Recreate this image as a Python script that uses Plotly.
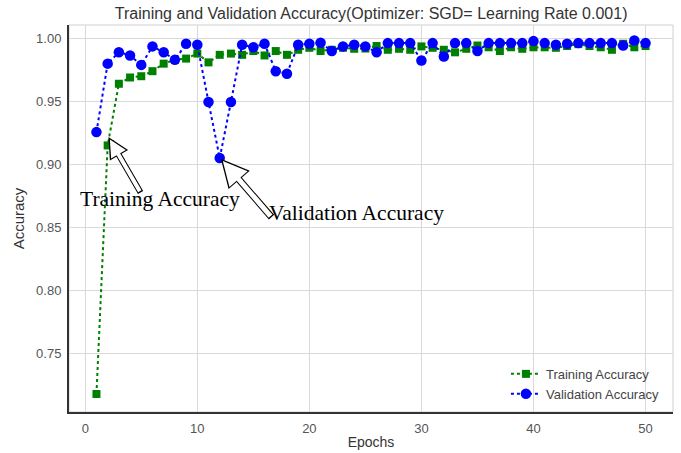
import plotly.graph_objects as go

epochs = list(range(1, 51))
train_acc = [0.7175, 0.915, 0.964, 0.969, 0.970, 0.974, 0.980, 0.983, 0.984, 0.988,
             0.981, 0.987, 0.988, 0.987, 0.990, 0.9865, 0.990, 0.987, 0.991, 0.9926,
             0.990, 0.991, 0.9926, 0.9918, 0.992, 0.994, 0.991, 0.9918, 0.991, 0.9937,
             0.9926, 0.991, 0.989, 0.9918, 0.9944, 0.993, 0.990, 0.993, 0.9918, 0.993,
             0.993, 0.9926, 0.994, 0.9955, 0.994, 0.993, 0.991, 0.9958, 0.993, 0.994]
val_acc = [0.9256, 0.980, 0.989, 0.9865, 0.979, 0.9937, 0.989, 0.983, 0.9958, 0.995,
           0.9495, 0.905, 0.9495, 0.995, 0.993, 0.9958, 0.974, 0.972, 0.995, 0.9958,
           0.9966, 0.990, 0.9937, 0.995, 0.9937, 0.989, 0.9963, 0.9963, 0.9963, 0.9825,
           0.9963, 0.9857, 0.9963, 0.9963, 0.990, 0.9963, 0.9963, 0.9963, 0.9963, 0.9979,
           0.9963, 0.995, 0.9958, 0.9963, 0.9963, 0.9963, 0.9963, 0.9944, 0.9984, 0.9963]

x_ticks = [0, 10, 20, 30, 40, 50]
y_ticks = [0.75, 0.80, 0.85, 0.90, 0.95, 1.00]

title_text = "Training and Validation Accuracy(Optimizer: SGD= Learning Rate 0.001)"

fig = go.Figure()
fig.add_trace(go.Scatter(
    x=epochs, y=train_acc, mode="lines+markers", name="Training Accuracy",
    line=dict(color="#008000", width=2, dash="dot"),
    marker=dict(symbol="square", size=8, color="#008000")))
fig.add_trace(go.Scatter(
    x=epochs, y=val_acc, mode="lines+markers", name="Validation Accuracy",
    line=dict(color="#0000ff", width=2, dash="dot"),
    marker=dict(symbol="circle", size=10.5, color="#0000ff")))

def hollow_arrow(x, y, ax, ay, w_out, s_out, w_in, s_in):
    # black outline
    fig.add_annotation(x=x, y=y, ax=ax, ay=ay, text="", showarrow=True,
                       arrowhead=2, arrowsize=s_out, arrowwidth=w_out, arrowcolor="#000000")
    # white interior
    fig.add_annotation(x=x, y=y, ax=ax, ay=ay, text="", showarrow=True,
                       arrowhead=2, arrowsize=s_in, arrowwidth=w_in, arrowcolor="#ffffff",
                       standoff=3, startstandoff=1.5)

hollow_arrow(2.07, 0.9217, 33, 57, 6, 0.7, 4, 0.85)
hollow_arrow(12.1, 0.9045, 52, 60, 7, 0.8, 5, 0.96)

fig.add_annotation(x=6.65, y=0.8722, text="Training Accuracy", showarrow=False,
                   font=dict(family="Liberation Serif", size=21.5, color="#000000"))
fig.add_annotation(x=24.25, y=0.8611, text="Validation Accuracy", showarrow=False,
                   font=dict(family="Liberation Serif", size=21.5, color="#000000"))

# light frame on top/right
fig.add_shape(type="rect", xref="paper", yref="paper", x0=0, y0=0, x1=1, y1=1,
              line=dict(color="#d0d0d0", width=1), layer="below")

fig.update_layout(
    width=681, height=453,
    margin=dict(l=69, r=8, t=25, b=41),
    paper_bgcolor="white", plot_bgcolor="white",
    font=dict(family="Liberation Sans", color="#555555", size=13),
    title=dict(text=title_text, x=0.545, xanchor="center", y=0.971, yanchor="middle",
               font=dict(family="Liberation Sans", size=16, color="#333333")),
    showlegend=True,
    legend=dict(x=0.985, xanchor="right", y=0.008, yanchor="bottom",
                bgcolor="rgba(255,255,255,0)", font=dict(size=13, color="#444444"),
                tracegroupgap=0, itemwidth=30),
    xaxis=dict(range=[-1.45, 52.45], tickvals=x_ticks, showgrid=True,
               gridcolor="#d9d9d9", gridwidth=1, zeroline=False,
               showline=True, linecolor="#333333", linewidth=2,
               ticks="", ticklabelstandoff=3, automargin=False,
               title=dict(text="Epochs", font=dict(size=14, color="#333333"), standoff=3)),
    yaxis=dict(range=[0.7032, 1.0107], tickvals=y_ticks, tickformat=".2f", showgrid=True,
               gridcolor="#d9d9d9", gridwidth=1, zeroline=False,
               showline=True, linecolor="#333333", linewidth=2,
               ticks="", ticklabelstandoff=3, automargin=False,
               title=dict(text="Accuracy", font=dict(size=15, color="#333333"), standoff=8)),
)

fig.write_html("out.html", config={"displayModeBar": False},
               post_script="document.body.style.margin='0';document.body.style.overflow='hidden';")
